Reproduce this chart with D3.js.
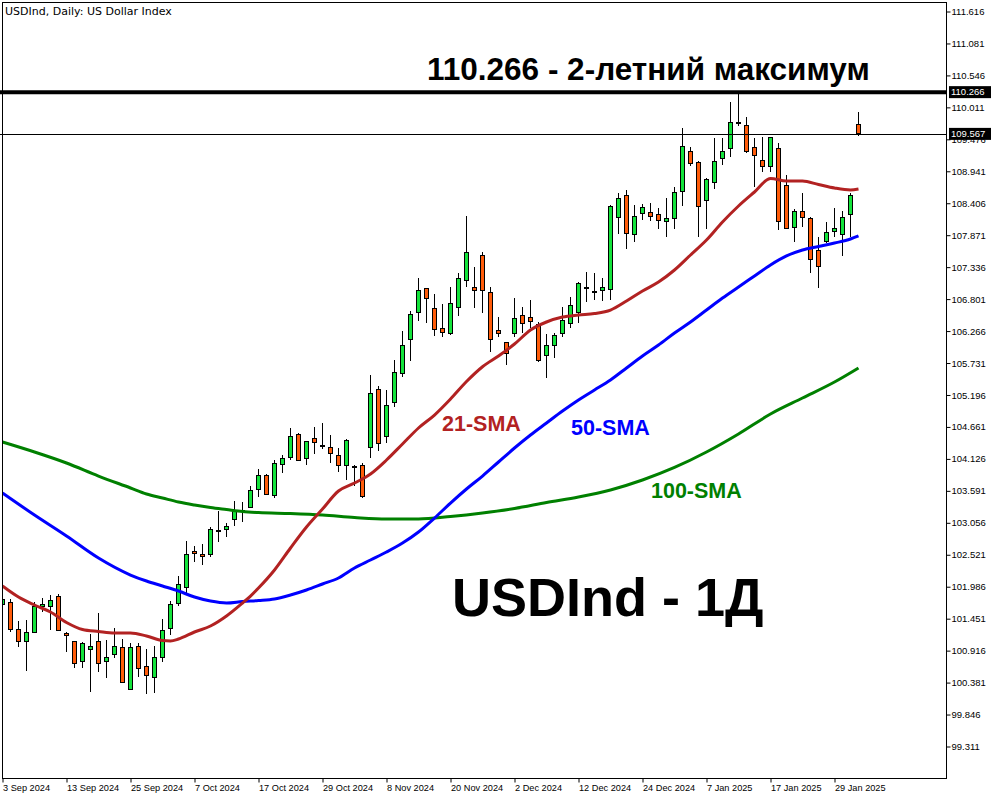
<!DOCTYPE html>
<html><head><meta charset="utf-8">
<script src="https://cdn.jsdelivr.net/npm/d3@7"></script>
<style>body{margin:0;background:#fff}svg{display:block}</style>
</head><body>
<svg id="chart" width="1000" height="800"></svg>
<script>
// ---------- DATA ----------
const dates = [
"2024-09-03","2024-09-04","2024-09-05","2024-09-06","2024-09-09","2024-09-10","2024-09-11","2024-09-12","2024-09-13","2024-09-16",
"2024-09-17","2024-09-18","2024-09-19","2024-09-20","2024-09-23","2024-09-24","2024-09-25","2024-09-26","2024-09-27","2024-09-30",
"2024-10-01","2024-10-02","2024-10-03","2024-10-04","2024-10-07","2024-10-08","2024-10-09","2024-10-10","2024-10-11","2024-10-14",
"2024-10-15","2024-10-16","2024-10-17","2024-10-18","2024-10-21","2024-10-22","2024-10-23","2024-10-24","2024-10-25","2024-10-28",
"2024-10-29","2024-10-30","2024-10-31","2024-11-01","2024-11-04","2024-11-05","2024-11-06","2024-11-07","2024-11-08","2024-11-11",
"2024-11-12","2024-11-13","2024-11-14","2024-11-15","2024-11-18","2024-11-19","2024-11-20","2024-11-21","2024-11-22","2024-11-25",
"2024-11-26","2024-11-27","2024-11-28","2024-11-29","2024-12-02","2024-12-03","2024-12-04","2024-12-05","2024-12-06","2024-12-09",
"2024-12-10","2024-12-11","2024-12-12","2024-12-13","2024-12-16","2024-12-17","2024-12-18","2024-12-19","2024-12-20","2024-12-23",
"2024-12-24","2024-12-26","2024-12-27","2024-12-30","2024-12-31","2025-01-02","2025-01-03","2025-01-06","2025-01-07","2025-01-08",
"2025-01-09","2025-01-10","2025-01-13","2025-01-14","2025-01-15","2025-01-16","2025-01-17","2025-01-20","2025-01-21","2025-01-22",
"2025-01-23","2025-01-24","2025-01-27","2025-01-28","2025-01-29","2025-01-30","2025-01-31","2025-02-03"];

const open = [
101.680,101.730,101.278,101.065,101.222,101.651,101.651,101.830,101.206,101.072,
100.737,100.938,101.072,100.737,100.854,100.971,100.268,100.988,100.647,100.469,
100.804,101.289,101.708,101.976,102.578,102.533,102.522,102.918,102.947,103.103,
103.253,103.309,103.617,103.851,103.521,104.035,104.152,104.537,104.136,104.471,
104.350,104.320,104.186,104.007,103.995,104.018,104.320,105.291,104.509,105.073,
105.559,106.128,106.580,106.982,106.647,106.312,106.228,106.664,107.116,106.999,
107.534,106.915,106.279,106.071,106.228,106.530,106.496,106.372,105.860,106.027,
106.228,106.396,106.580,106.987,106.920,106.937,106.970,108.164,108.539,107.879,
108.237,108.254,108.221,108.103,108.147,108.606,109.275,109.096,108.455,108.756,
109.158,109.326,109.754,109.711,109.342,109.125,109.024,109.326,108.706,108.003,
108.271,108.154,107.618,107.769,107.936,107.886,108.221,109.727];
const high = [
101.830,101.780,101.412,101.429,101.730,101.797,101.847,101.864,101.233,101.077,
101.065,101.194,101.541,101.094,101.289,101.105,101.038,101.038,100.938,100.993,
101.440,101.746,102.165,102.746,102.667,102.701,102.990,103.253,103.047,103.421,
103.409,103.672,103.952,103.868,104.107,104.191,104.638,104.554,104.430,104.655,
104.722,104.526,104.303,104.454,104.023,104.052,105.530,105.346,105.279,105.781,
106.272,106.602,107.149,106.992,106.881,106.714,106.999,107.233,108.192,107.343,
107.585,106.999,106.496,106.088,106.814,106.664,106.786,106.423,106.217,106.228,
106.674,106.841,107.092,107.260,107.233,107.149,108.376,108.572,108.628,108.376,
108.393,108.405,108.321,108.489,108.683,109.661,109.352,109.113,108.823,109.493,
109.493,110.096,110.240,109.855,109.493,109.510,109.520,109.409,108.874,108.304,
108.572,108.181,107.846,108.087,108.321,108.281,108.572,109.928];
const low = [
101.629,101.228,100.976,100.575,101.211,101.567,101.261,101.244,100.898,100.620,
100.620,100.228,100.563,100.462,100.787,100.368,100.257,100.479,100.184,100.211,
100.730,101.177,101.663,101.875,102.405,102.344,102.488,102.739,102.823,103.008,
103.074,103.299,103.493,103.521,103.476,103.885,104.107,104.096,104.023,104.208,
104.286,104.052,103.911,103.772,103.672,103.466,104.136,104.263,104.397,104.990,
105.502,105.770,106.439,106.396,106.183,106.171,106.200,106.518,106.999,106.647,
106.563,105.920,106.171,105.698,106.171,106.228,106.312,105.753,105.475,105.820,
106.162,106.312,106.396,106.757,106.786,106.769,106.786,107.891,107.645,107.762,
108.125,108.114,107.980,107.846,107.970,108.365,109.029,107.846,107.970,108.649,
109.046,109.185,109.699,109.242,108.673,108.924,108.924,107.958,107.970,107.762,
108.013,107.233,106.982,107.735,107.846,107.528,107.846,109.532];
const close = [
101.780,101.278,101.077,101.216,101.651,101.696,101.763,101.261,101.172,100.703,
101.038,100.988,100.703,100.804,100.988,100.385,100.971,100.620,100.503,100.804,
101.256,101.691,102.026,102.533,102.545,102.500,102.947,102.927,103.002,103.258,
103.262,103.605,103.851,103.538,104.052,104.136,104.509,104.107,104.420,104.404,
104.341,104.208,104.007,104.430,103.998,103.493,105.224,104.387,105.023,105.576,
106.016,106.547,106.948,106.814,106.284,106.245,106.731,107.143,107.585,106.948,
106.948,106.128,106.228,105.894,106.480,106.396,106.430,105.765,106.016,106.200,
106.439,106.697,107.065,106.995,106.928,106.987,108.355,108.489,107.903,108.187,
108.338,108.181,108.114,108.154,108.589,109.359,109.075,108.348,108.807,109.108,
109.275,109.761,109.757,109.275,109.208,109.024,109.510,108.103,107.986,108.271,
108.170,107.467,107.350,107.920,107.986,108.170,108.539,109.567];

const sma21Bars = [0,2,4,6,8,10,12,14,16,18,20,21,22,24,26,28,30,31,32,34,36,38,40,42,44,46,48,50,52,54,56,58,60,62,64,66,68,70,72,74,76,78,80,82,84,86,88,90,92,94,96,98,100,102,104,106,107];
const sma21 = [101.998,101.813,101.680,101.562,101.387,101.269,101.236,101.211,101.211,101.161,101.085,101.077,101.110,101.228,101.328,101.496,101.713,101.830,101.964,102.266,102.634,102.985,103.287,103.588,103.722,103.873,104.107,104.375,104.643,104.860,105.128,105.421,105.669,105.849,106.049,106.284,106.418,106.501,106.535,106.560,106.618,106.769,106.937,107.087,107.288,107.539,107.790,108.092,108.360,108.594,108.820,108.778,108.778,108.720,108.661,108.628,108.644];

const sma50Bars = [0,4,8,12,16,18,20,22,24,26,28,30,32,34,36,38,40,42,44,46,48,50,52,54,56,58,60,62,64,66,68,70,72,74,76,78,80,82,84,86,88,90,92,94,96,98,100,102,104,106,107];
const sma50 = [103.555,103.186,102.835,102.466,102.182,102.081,101.998,101.914,101.813,101.746,101.713,101.738,101.755,101.780,101.847,101.931,102.031,102.132,102.299,102.433,102.567,102.717,102.902,103.136,103.387,103.622,103.839,104.074,104.308,104.526,104.727,104.927,105.112,105.279,105.447,105.648,105.849,106.032,106.233,106.418,106.618,106.819,107.004,107.188,107.372,107.523,107.623,107.682,107.740,107.807,107.858];

const sma100Bars = [0,4,8,12,16,18,20,22,24,26,28,30,32,36,40,44,48,52,56,60,64,68,72,76,80,84,88,92,96,100,104,107];
const sma100 = [104.408,104.241,104.057,103.839,103.639,103.538,103.471,103.404,103.354,103.312,103.278,103.245,103.228,103.211,103.186,103.145,103.119,103.119,103.161,103.220,103.295,103.396,103.488,103.605,103.772,103.982,104.241,104.543,104.877,105.145,105.413,105.648];

const yTicks = [111.616,111.081,110.546,110.011,109.476,108.941,108.406,107.871,107.336,106.801,106.266,105.731,105.196,104.661,104.126,103.591,103.056,102.521,101.986,101.451,100.916,100.381,99.846,99.311];
const tickDates = ["2024-09-03","2024-09-13","2024-09-25","2024-10-07","2024-10-17","2024-10-29","2024-11-08","2024-11-20","2024-12-02","2024-12-12","2024-12-24","2025-01-07","2025-01-17","2025-01-29"];
const twoYearHigh = 110.266;
const lastPrice = 109.567;

const titleText = "USDInd, Daily:  US Dollar Index";
const highLabel = "110.266 - 2-летний максимум";
const bigLabel = "USDInd - 1Д";

// ---------- CHART ----------
const svg = d3.select("#chart");
const L = 2, R = 946, T = 2, B = 778;
const x = d3.scalePoint().domain(dates).range([2.5, 858.5]);
const y = d3.scaleLinear().domain([99.311, 111.616]).range([746.5, 11.5]);
const fmtIn = d3.timeParse("%Y-%m-%d");
const fmtOut = d3.timeFormat("%-d %b %Y");
const FONT = "'Liberation Sans', Arial, sans-serif";

svg.append("defs").append("clipPath").attr("id","plot")
  .append("rect").attr("x",L).attr("y",T).attr("width",R-L).attr("height",B-T);

const plot = svg.append("g").attr("clip-path","url(#plot)");

const bars = dates.map((d,i)=>({d, o:open[i], h:high[i], l:low[i], c:close[i]}));
const GREEN = "#14E43C", ORANGE = "#FF5C0A";

const cg = plot.append("g").attr("shape-rendering","crispEdges");
cg.selectAll("line.wick").data(bars).join("line")
  .attr("class","wick")
  .attr("x1",b=>x(b.d)).attr("x2",b=>x(b.d))
  .attr("y1",b=>y(b.h)).attr("y2",b=>y(b.l))
  .attr("stroke","#000").attr("stroke-width",1);
const isDoji = b => Math.abs(b.c-b.o) < 0.015;
cg.selectAll("rect.body").data(bars.filter(b=>!isDoji(b))).join("rect")
  .attr("class","body")
  .attr("x",b=>x(b.d)-2).attr("width",4)
  .attr("y",b=>y(Math.max(b.o,b.c)))
  .attr("height",b=>Math.max(1, y(Math.min(b.o,b.c))-y(Math.max(b.o,b.c))))
  .attr("fill",b=>b.c>b.o?GREEN:ORANGE)
  .attr("stroke","#000").attr("stroke-width",1);
cg.selectAll("line.doji").data(bars.filter(isDoji)).join("line")
  .attr("class","doji")
  .attr("x1",b=>x(b.d)-2.5).attr("x2",b=>x(b.d)+2.5)
  .attr("y1",b=>y((b.o+b.c)/2)).attr("y2",b=>y((b.o+b.c)/2))
  .attr("stroke","#000").attr("stroke-width",2);

const lineGen = d3.line().x(d=>x(dates[d[0]])).y(d=>y(d[1])).curve(d3.curveMonotoneX);
function drawSMA(idx, vals, color){
  plot.append("path").datum(idx.map((k,j)=>[k,vals[j]]))
    .attr("d",lineGen).attr("fill","none").attr("stroke",color)
    .attr("stroke-width",3).attr("stroke-linejoin","round");
}
drawSMA(sma100Bars, sma100, "#008000");
drawSMA(sma50Bars, sma50, "#0000FF");
drawSMA(sma21Bars, sma21, "#B22222");

svg.append("line").attr("x1",0).attr("x2",R).attr("y1",y(twoYearHigh)).attr("y2",y(twoYearHigh))
  .attr("stroke","#000").attr("stroke-width",4);
svg.append("line").attr("x1",0).attr("x2",R).attr("y1",Math.round(y(lastPrice))+0.5).attr("y2",Math.round(y(lastPrice))+0.5)
  .attr("stroke","#000").attr("stroke-width",1);

svg.append("rect").attr("x",L+0.5).attr("y",T+0.5).attr("width",R-L).attr("height",B-T)
  .attr("fill","none").attr("stroke","#000").attr("stroke-width",1);

const yAxis = svg.append("g").attr("transform",`translate(${R+0.5},0)`)
  .call(d3.axisRight(y).tickValues(yTicks).tickSize(4).tickFormat(d3.format(".3f")));
yAxis.select(".domain").remove();
yAxis.selectAll("text").attr("x",5).attr("font-family",FONT).attr("font-size",9.5).attr("fill","#000");
yAxis.selectAll("line").attr("stroke","#000");

const xAxis = svg.append("g").attr("transform",`translate(0,${B+0.5})`)
  .call(d3.axisBottom(x).tickValues(tickDates).tickSize(4).tickFormat(d=>fmtOut(fmtIn(d))));
xAxis.select(".domain").remove();
xAxis.selectAll("text").attr("text-anchor","start").attr("x",0).attr("y",6)
  .attr("font-family",FONT).attr("font-size",9.2).attr("fill","#000");
xAxis.selectAll("line").attr("stroke","#000");

function priceBox(v){
  const yy = y(v);
  svg.append("rect").attr("x",R+3).attr("y",yy-6).attr("width",42).attr("height",12).attr("fill","#000");
  svg.append("text").attr("x",R+5).attr("y",yy).attr("dy","0.35em")
    .attr("font-family",FONT).attr("font-size",9.5).attr("fill","#fff").text(d3.format(".3f")(v));
}
priceBox(twoYearHigh);
priceBox(lastPrice);

svg.append("text").attr("x",5).attr("y",15).attr("font-family","'DejaVu Sans', sans-serif").attr("font-size",11)
  .attr("fill","#000").text(titleText);

svg.append("text").attr("x",427).attr("y",80).attr("font-family",FONT).attr("font-weight","bold")
  .attr("font-size",31.5).attr("fill","#000").text(highLabel);
svg.append("text").attr("x",442).attr("y",431).attr("font-family",FONT).attr("font-weight","bold")
  .attr("font-size",21.5).attr("fill","#B22222").text("21-SMA");
svg.append("text").attr("x",571).attr("y",435).attr("font-family",FONT).attr("font-weight","bold")
  .attr("font-size",21.5).attr("fill","#0000FF").text("50-SMA");
svg.append("text").attr("x",651).attr("y",498).attr("font-family",FONT).attr("font-weight","bold")
  .attr("font-size",21.5).attr("fill","#008000").text("100-SMA");
svg.append("text").attr("x",452).attr("y",616).attr("font-family",FONT).attr("font-weight","bold")
  .attr("font-size",54).attr("fill","#000").text(bigLabel);
</script>
</body></html>
